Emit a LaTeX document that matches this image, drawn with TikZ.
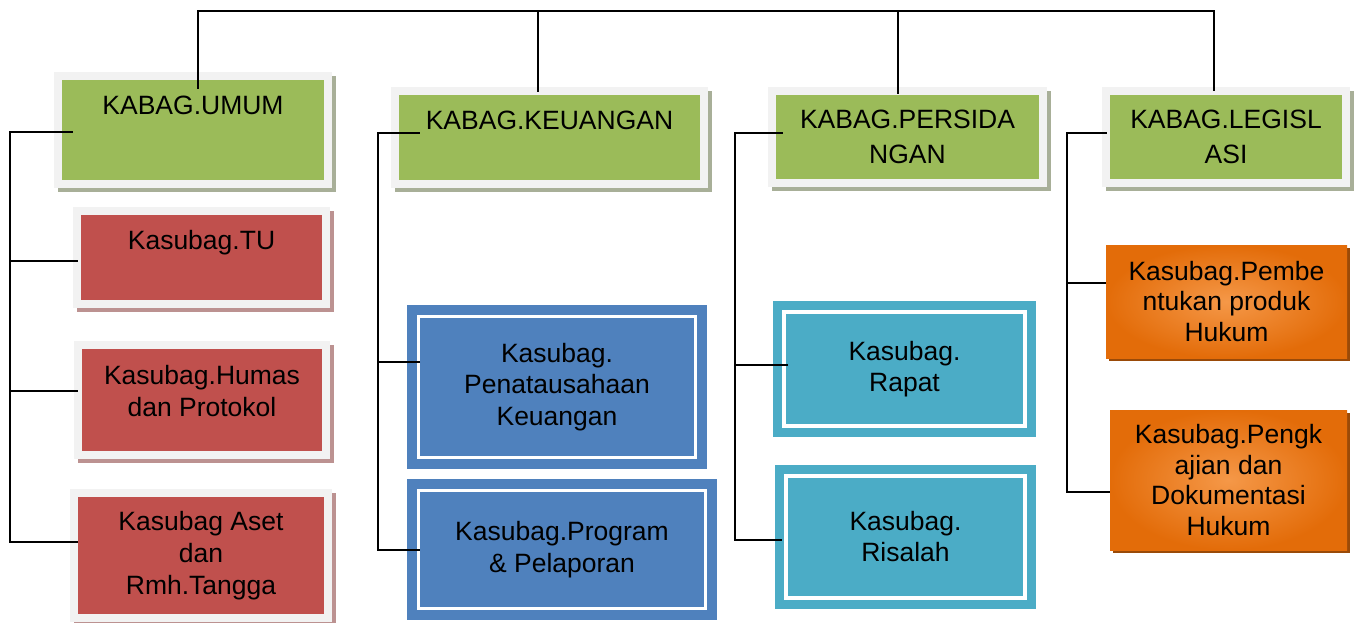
\documentclass[tikz,border=0pt]{standalone}
\usepackage{fontspec}
\setmainfont{Liberation Sans}
\usetikzlibrary{shadows}

\definecolor{framegray}{HTML}{F2F2F2}
\definecolor{kabaggreen}{HTML}{9BBB59}
\definecolor{greenshade}{HTML}{A8AF98}
\definecolor{subred}{HTML}{C0504D}
\definecolor{redshade}{HTML}{BC9291}
\definecolor{subblue}{HTML}{4F81BD}
\definecolor{subteal}{HTML}{4BACC6}
\definecolor{suborange}{HTML}{E36C09}
\definecolor{orangelight}{HTML}{F59848}
\definecolor{orangeshade}{HTML}{9A4A08}

% text block raised inside its box
\newcommand\lifted[2]{\raisebox{#1}[0pt][0pt]{\begin{tabular}{@{}c@{}}#2\end{tabular}}}

\begin{document}
\begin{tikzpicture}[x=1pt,y=-1pt,
    framed/.style={rectangle,inner sep=0pt,align=center,fill=framegray,
      path picture={\fill[#1] ([shift={(8pt,8pt)}]path picture bounding box.south west)
        rectangle ([shift={(-8pt,-8pt)}]path picture bounding box.north east);}},
    kabag/.style={framed=kabaggreen,font=\fontsize{26.5}{35}\selectfont,
      drop shadow={shadow xshift=4pt,shadow yshift=-4pt,fill=greenshade,opacity=1}},
    redsub/.style={framed=subred,font=\fontsize{26.5}{32}\selectfont,
      drop shadow={shadow xshift=4pt,shadow yshift=-4pt,fill=redshade,opacity=1}},
    bluesub/.style={rectangle,inner sep=0pt,align=center,font=\fontsize{26.5}{31.5}\selectfont,
      fill=subblue,draw=white,line width=3pt,preaction={draw=subblue,line width=23pt}},
    tealsub/.style={rectangle,inner sep=0pt,align=center,font=\fontsize{26.5}{31}\selectfont,
      fill=subteal,draw=white,line width=4pt,preaction={draw=subteal,line width=22pt}},
    orangesub/.style={rectangle,inner sep=0pt,align=center,font=\fontsize{26.5}{30.5}\selectfont,
      inner color=orangelight,outer color=suborange,
      drop shadow={shadow xshift=3pt,shadow yshift=-3pt,fill=orangeshade,opacity=1}},
    link/.style={draw=black,line width=2pt}]
  \path[fill=white,use as bounding box] (0,0) rectangle (1358,623);

  % heads of section
  \node[kabag,minimum width=278pt,minimum height=116pt] (umum) at (193,130) {\lifted{16pt}{KABAG.UMUM}};
  \node[kabag,minimum width=317pt,minimum height=101pt] (keuangan) at (549.5,137.5) {\lifted{8.5pt}{KABAG.KEUANGAN}};
  \node[kabag,minimum width=279pt,minimum height=100pt] (persidangan) at (907.5,137) {KABAG.PERSIDA\\NGAN};
  \node[kabag,minimum width=248pt,minimum height=100pt] (legislasi) at (1226,137) {KABAG.LEGISL\\ASI};

  % sub sections
  \node[redsub,minimum width=257pt,minimum height=101pt] (tu) at (201.5,257.5) {\lifted{8pt}{Kasubag.TU}};
  \node[redsub,minimum width=256pt,minimum height=118pt] (humas) at (202,400) {\lifted{0pt}{Kasubag.Humas\\dan Protokol}};
  \node[redsub,minimum width=262pt,minimum height=133pt] (aset) at (201,555.5) {Kasubag Aset\\dan\\Rmh.Tangga};

  \node[bluesub,minimum width=277pt,minimum height=141pt] (penata) at (557,387) {Kasubag.\\Penatausahaan\\Keuangan};
  \node[bluesub,minimum width=287pt,minimum height=118pt] (program) at (562,549.5) {Kasubag.Program\\\& Pelaporan};

  \node[tealsub,minimum width=241pt,minimum height=114pt] (rapat) at (904.5,369) {Kasubag.\\Rapat};
  \node[tealsub,minimum width=239pt,minimum height=122pt] (risalah) at (905.5,537) {Kasubag.\\Risalah};

  \node[orangesub,minimum width=241pt,minimum height=113pt] (pembentukan) at (1226.5,301.5) {Kasubag.Pembe\\ntukan produk\\Hukum};
  \node[orangesub,minimum width=237pt,minimum height=140pt] (pengkajian) at (1228.5,480) {Kasubag.Pengk\\ajian dan\\Dokumentasi\\Hukum};

  % top bar
  \coordinate (bar) at (0,11);
  \draw[link] ([xshift=5pt,yshift=-17pt]umum.north) -- ([xshift=5pt]umum.north |- bar)
    -- ([xshift=-12pt]legislasi.north |- bar) -- ([xshift=-12pt,yshift=-4pt]legislasi.north);
  \draw[link] ([xshift=-11.5pt,yshift=-5pt]keuangan.north) -- ([xshift=-11.5pt]keuangan.north |- bar);
  \draw[link] ([xshift=-9.5pt,yshift=-7pt]persidangan.north) -- ([xshift=-9.5pt]persidangan.north |- bar);

  % side buses
  \coordinate (busA) at (10,0);
  \coordinate (busB) at (378,0);
  \coordinate (busC) at (735,0);
  \coordinate (busD) at (1067,0);

  \draw[link] ([xshift=19pt,yshift=-2pt]umum.west) -| ([yshift=13.5pt]aset.west -| busA)
    -- ([xshift=8pt,yshift=13.5pt]aset.west);
  \foreach \kid/\dy/\dx in {tu/-3.5/5, humas/9/4}
    \draw[link] ([xshift=\dx pt,yshift=\dy pt]\kid.west) -- ([yshift=\dy pt]\kid.west -| busA);

  \draw[link] ([xshift=29pt,yshift=4.5pt]keuangan.west) -| (program.west -| busB)
    -- ([xshift=3pt]program.west);
  \draw[link] ([xshift=3pt,yshift=25pt]penata.west) -- ([yshift=25pt]penata.west -| busB);

  \draw[link] ([xshift=15pt,yshift=4pt]persidangan.west) -| ([yshift=-3pt]risalah.west -| busC)
    -- ([xshift=-2pt,yshift=-3pt]risalah.west);
  \draw[link] ([xshift=6pt,yshift=4pt]rapat.west) -- ([yshift=4pt]rapat.west -| busC);

  \draw[link] ([xshift=5pt,yshift=4pt]legislasi.west) -| ([yshift=-12pt]pengkajian.west -| busD)
    -- ([yshift=-12pt]pengkajian.west);
  \draw[link] ([yshift=18.5pt]pembentukan.west) -- ([yshift=18.5pt]pembentukan.west -| busD);
\end{tikzpicture}
\end{document}
